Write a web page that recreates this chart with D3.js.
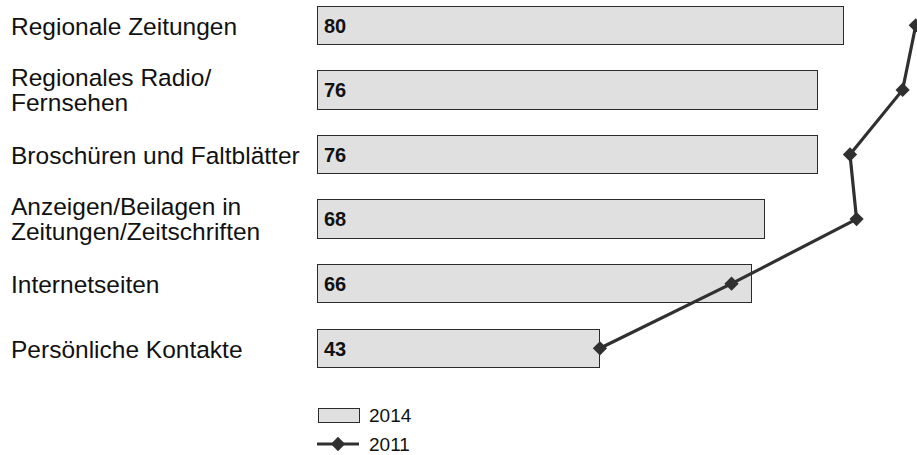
<!DOCTYPE html>
<html>
<head>
<meta charset="utf-8">
<script src="https://cdn.jsdelivr.net/npm/d3@7"></script>
<style>
  html, body { margin: 0; padding: 0; background: #fff; }
  svg { display: block; font-family: "Liberation Sans", Arial, Helvetica, sans-serif; }
</style>
</head>
<body>
<svg id="chart" width="917" height="455"></svg>
<script>
// Categories (line breaks mark two-line labels)
const categories = [
  "Regionale Zeitungen",
  "Regionales Radio/\nFernsehen",
  "Broschüren und Faltblätter",
  "Anzeigen/Beilagen in\nZeitungen/Zeitschriften",
  "Internetseiten",
  "Persönliche Kontakte"
];
const values2014 = [80, 76, 76, 68, 66, 43];
const values2011 = [91, 89, 81, 82, 63, 43];
const seriesNames = ["2014", "2011"];

const W = 917, H = 455;
const svg = d3.select("#chart");

const x = d3.scaleLinear().domain([0, 100]).range([317, 975]);
const y = d3.scaleBand().domain(categories).range([-7, 380.6]).paddingInner(0.404).paddingOuter(0.202);

const barFill = "#e0e0e0", barStroke = "#2b2b2b", lineColor = "#303030";

// Category labels
const labels = svg.append("g").attr("font-size", 24.5).attr("fill", "#111");
categories.forEach(c => {
  const lines = c.split("\n");
  const cy = y(c) + y.bandwidth() / 2 + (lines.length > 1 ? 0 : 1);
  const lh = 25;
  const t = labels.append("text").attr("x", 11);
  lines.forEach((ln, i) => {
    t.append("tspan")
      .attr("x", 11)
      .attr("y", cy + (i - (lines.length - 1) / 2) * lh)
      .attr("dy", "0.35em")
      .text(ln);
  });
});

// Bars (2014)
svg.append("g").selectAll("rect")
  .data(values2014)
  .join("rect")
  .attr("x", x(0))
  .attr("y", (d, i) => y(categories[i]))
  .attr("width", d => x(d) - x(0))
  .attr("height", y.bandwidth())
  .attr("fill", barFill)
  .attr("stroke", barStroke)
  .attr("stroke-width", 1)
  .attr("shape-rendering", "crispEdges");

// Value labels
svg.append("g").selectAll("text")
  .data(values2014)
  .join("text")
  .attr("x", x(0) + 7)
  .attr("y", (d, i) => y(categories[i]) + y.bandwidth() / 2)
  .attr("dy", "0.36em")
  .attr("font-size", 20)
  .attr("font-weight", "bold")
  .attr("fill", "#111")
  .text(d => d);

// Line (2011)
const line = d3.line()
  .x(d => x(d.v))
  .y(d => y(d.c) + y.bandwidth() / 2);
const pts = values2011.map((v, i) => ({ v, c: categories[i] }));
svg.append("path")
  .datum(pts)
  .attr("d", line)
  .attr("fill", "none")
  .attr("stroke", lineColor)
  .attr("stroke-width", 3.2);

const diamond = d3.symbol().type(d3.symbolDiamond2).size(130);
svg.append("g").selectAll("path")
  .data(pts)
  .join("path")
  .attr("transform", d => `translate(${x(d.v)},${y(d.c) + y.bandwidth() / 2})`)
  .attr("d", diamond)
  .attr("fill", lineColor);

// Legend
const lg = svg.append("g").attr("font-size", 19).attr("fill", "#111");
lg.append("rect")
  .attr("x", 318).attr("y", 408).attr("width", 41).attr("height", 14)
  .attr("fill", barFill).attr("stroke", barStroke).attr("stroke-width", 1)
  .attr("shape-rendering", "crispEdges");
lg.append("text").attr("x", 369).attr("y", 415).attr("dy", "0.36em").text(seriesNames[0]);

lg.append("line")
  .attr("x1", 317).attr("x2", 359).attr("y1", 444).attr("y2", 444)
  .attr("stroke", lineColor).attr("stroke-width", 3.2);
lg.append("path")
  .attr("transform", "translate(338,444)")
  .attr("d", diamond)
  .attr("fill", lineColor);
lg.append("text").attr("x", 369).attr("y", 444).attr("dy", "0.36em").text(seriesNames[1]);
</script>
</body>
</html>
